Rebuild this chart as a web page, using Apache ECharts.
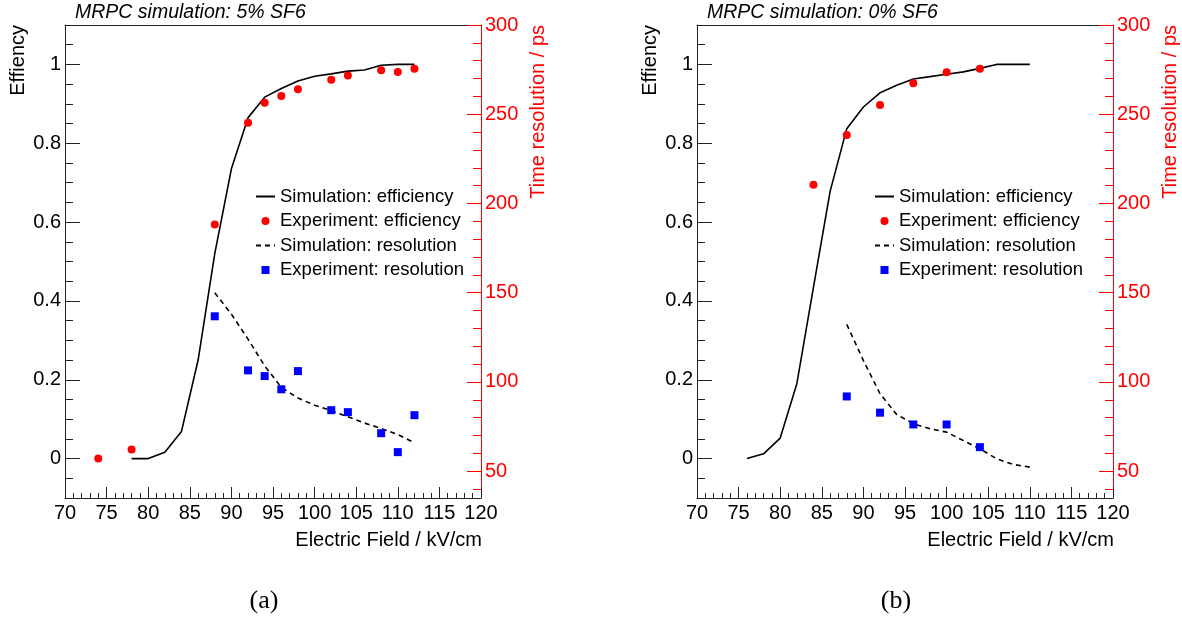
<!DOCTYPE html>
<html>
<head>
<meta charset="utf-8">
<script src="https://cdn.jsdelivr.net/npm/echarts@6/dist/echarts.min.js"></script>
<style>
html,body{margin:0;padding:0;background:#fff;}
#chart{width:1182px;height:617px;}
</style>
</head>
<body>
<div id="chart"></div>
<script>
// ---------- Panel (a): 5% SF6 ----------
const simEffX_a = [78, 80, 82, 84, 86, 88, 90, 92, 94, 96, 98, 100, 102, 104, 106, 108, 110, 112];
const simEff_a  = [0, 0, 0.016, 0.069, 0.25, 0.52, 0.735, 0.865, 0.917, 0.939, 0.958, 0.970, 0.976, 0.983, 0.986, 0.998, 1.0, 1.0];
const expEffX_a = [74, 78, 88, 92, 94, 96, 98, 102, 104, 108, 110, 112];
const expEff_a  = [0, 0.023, 0.594, 0.852, 0.903, 0.920, 0.937, 0.961, 0.972, 0.985, 0.981, 0.989];
const simResX_a = [88, 90, 92, 94, 96, 98, 100, 102, 104, 106, 108, 110, 112];
const simRes_a  = [150, 138, 124, 109, 97, 91, 87, 84, 80.5, 77, 74, 70.5, 66];
const expResX_a = [88, 92, 94, 96, 98, 102, 104, 108, 110, 112];
const expRes_a  = [136.8, 106.5, 103.3, 95.9, 106.1, 84.2, 83.1, 71.3, 60.7, 81.4];

// ---------- Panel (b): 0% SF6 ----------
const simEffX_b = [76, 78, 80, 82, 84, 86, 88, 90, 92, 94, 96, 98, 100, 102, 104, 106, 108, 110];
const simEff_b  = [0, 0.012, 0.052, 0.19, 0.435, 0.678, 0.837, 0.892, 0.928, 0.947, 0.963, 0.969, 0.975, 0.981, 0.99, 1.0, 1.0, 1.0];
const expEffX_b = [84, 88, 92, 96, 100, 104];
const expEff_b  = [0.695, 0.821, 0.897, 0.952, 0.980, 0.989];
const simResX_b = [88, 90, 92, 94, 96, 98, 100, 102, 104, 106, 108, 110];
const simRes_b  = [132.3, 112, 93.4, 81.8, 76.6, 73.8, 71.9, 67.2, 62.6, 57, 53.8, 52.3];
const expResX_b = [88, 92, 96, 100, 104];
const expRes_b  = [91.9, 82.8, 76.2, 76.2, 63.5];

// ---------- Tick labels ----------
const effMajor = [0, 0.2, 0.4, 0.6, 0.8, 1];
const effMinor = [-0.1, -0.05, 0, 0.05, 0.1, 0.15, 0.2, 0.25, 0.3, 0.35, 0.4, 0.45, 0.5, 0.55, 0.6, 0.65, 0.7, 0.75, 0.8, 0.85, 0.9, 0.95, 1, 1.05, 1.1];
const resMajor = [50, 100, 150, 200, 250, 300];
const resMinor = [40, 50, 60, 70, 80, 90, 100, 110, 120, 130, 140, 150, 160, 170, 180, 190, 200, 210, 220, 230, 240, 250, 260, 270, 280, 290, 300];

const titles = ['MRPC simulation: 5% SF6', 'MRPC simulation: 0% SF6'];
const panelTags = ['(a)', '(b)'];
const seriesNames = ['Simulation: efficiency', 'Experiment: efficiency', 'Simulation: resolution', 'Experiment: resolution'];

const FONT = 'Liberation Sans, Arial, sans-serif';
const AX = '#222';
const RED = '#ff0000';
const BLUE = '#0000ff';

function pairs(xs, ys) { return xs.map((x, i) => [x, ys[i]]); }

const panels = [
  {left: 65, sx: [simEffX_a, simEff_a], ex: [expEffX_a, expEff_a], sr: [simResX_a, simRes_a], er: [expResX_a, expRes_a], legendLeft: 255},
  {left: 697, sx: [simEffX_b, simEff_b], ex: [expEffX_b, expEff_b], sr: [simResX_b, simRes_b], er: [expResX_b, expRes_b], legendLeft: 874}
];

const grid = [], xAxis = [], yAxis = [], series = [], legend = [], title = [], graphic = [];

const hiddenSym = {color: 'rgba(0,0,0,0)', borderWidth: 0};
const legendData = [
  {name: seriesNames[0], itemStyle: hiddenSym},
  {name: seriesNames[1], icon: 'circle'},
  {name: seriesNames[2], itemStyle: hiddenSym},
  {name: seriesNames[3], icon: 'path://M0,0L10,0L10,10L0,10Z'}
];

panels.forEach((p, k) => {
  grid.push({left: p.left, top: 25, width: 416, height: 473, containLabel: false});
  // bottom x axis
  xAxis.push({
    type: 'value', gridIndex: k, position: 'bottom', min: 70, max: 120, interval: 5,
    axisLine: {show: true, onZero: false, lineStyle: {color: AX, width: 1}},
    axisTick: {show: true, inside: true, length: 11, lineStyle: {color: AX}},
    minorTick: {show: true, splitNumber: 5, length: 5, lineStyle: {color: AX}},
    axisLabel: {color: '#000', fontSize: 20, fontFamily: FONT, margin: 5},
    splitLine: {show: false}, minorSplitLine: {show: false}
  });
  // top frame line
  xAxis.push({
    type: 'value', gridIndex: k, position: 'top', min: 70, max: 120,
    axisLine: {show: true, onZero: false, lineStyle: {color: AX, width: 1}},
    axisTick: {show: false}, axisLabel: {show: false}, splitLine: {show: false}
  });
  // left efficiency axis (major + labels)
  yAxis.push({
    type: 'value', gridIndex: k, position: 'left', min: -0.1, max: 1.1,
    axisLine: {show: true, onZero: false, lineStyle: {color: AX, width: 1}},
    axisTick: {show: true, inside: true, length: 15, customValues: effMajor, lineStyle: {color: AX}},
    axisLabel: {show: true, customValues: effMajor, color: '#000', fontSize: 20, fontFamily: FONT, margin: 4},
    splitLine: {show: false}
  });
  // left efficiency axis (minor ticks)
  yAxis.push({
    type: 'value', gridIndex: k, position: 'left', min: -0.1, max: 1.1,
    axisLine: {show: false, onZero: false},
    axisTick: {show: true, inside: true, length: 8, customValues: effMinor, lineStyle: {color: AX}},
    axisLabel: {show: false}, splitLine: {show: false}
  });
  // right resolution axis (major + labels)
  yAxis.push({
    type: 'value', gridIndex: k, position: 'right', min: 35, max: 300,
    axisLine: {show: true, onZero: false, lineStyle: {color: RED, width: 1}},
    axisTick: {show: true, inside: true, length: 14, customValues: resMajor, lineStyle: {color: RED}},
    axisLabel: {show: true, customValues: resMajor, color: RED, fontSize: 20, fontFamily: FONT, margin: 4},
    splitLine: {show: false}
  });
  // right resolution axis (minor ticks)
  yAxis.push({
    type: 'value', gridIndex: k, position: 'right', min: 35, max: 300,
    axisLine: {show: false, onZero: false},
    axisTick: {show: true, inside: true, length: 8, customValues: resMinor, lineStyle: {color: RED}},
    axisLabel: {show: false}, splitLine: {show: false}
  });

  const xi = k * 2, yi = k * 4;
  series.push({
    name: seriesNames[0], type: 'line', xAxisIndex: xi, yAxisIndex: yi,
    data: pairs(p.sx[0], p.sx[1]), symbol: 'none', showSymbol: false,
    lineStyle: {color: '#000', width: 1.6}, itemStyle: {color: '#000'}, z: 3, animation: false
  });
  series.push({
    name: seriesNames[1], type: 'scatter', xAxisIndex: xi, yAxisIndex: yi,
    data: pairs(p.ex[0], p.ex[1]), symbol: 'circle', symbolSize: 8,
    itemStyle: {color: RED, opacity: 1}, z: 4, animation: false
  });
  series.push({
    name: seriesNames[2], type: 'line', xAxisIndex: xi, yAxisIndex: yi + 2,
    data: pairs(p.sr[0], p.sr[1]), symbol: 'none', showSymbol: false,
    lineStyle: {color: '#000', width: 1.6, type: [5, 4]}, itemStyle: {color: '#000'}, z: 3, animation: false
  });
  series.push({
    name: seriesNames[3], type: 'scatter', xAxisIndex: xi, yAxisIndex: yi + 2,
    data: pairs(p.er[0], p.er[1]), symbol: 'rect', symbolSize: 8,
    itemStyle: {color: BLUE, opacity: 1}, z: 4, animation: false
  });

  legend.push({
    data: legendData, orient: 'vertical', left: p.legendLeft, top: 187, padding: 0,
    itemWidth: 19, itemHeight: 8, itemGap: 5.5, selectedMode: false, symbolKeepAspect: true,
    textStyle: {color: '#000', fontSize: 18.5, fontFamily: FONT}
  });

  title.push({
    text: titles[k], left: p.left + 10, top: 3, padding: 0,
    textStyle: {fontSize: 19.5, fontStyle: 'italic', fontWeight: 'normal', color: '#000', fontFamily: FONT}
  });

  const right = p.left + 416;
  graphic.push({
    type: 'text', x: p.left - 47, y: 25, rotation: Math.PI / 2,
    style: {text: 'Effiency', font: '20px ' + FONT, fill: '#000', textAlign: 'right', textVerticalAlign: 'middle'}
  });
  graphic.push({
    type: 'text', x: right + 57, y: 25, rotation: Math.PI / 2,
    style: {text: 'Time resolution / ps', font: '20px ' + FONT, fill: RED, textAlign: 'right', textVerticalAlign: 'middle'}
  });
  graphic.push({
    type: 'text', x: right + 1, y: 540,
    style: {text: 'Electric Field / kV/cm', font: '20px ' + FONT, fill: '#000', textAlign: 'right', textVerticalAlign: 'middle'}
  });
  graphic.push({
    type: 'text', x: p.left + 199, y: 601,
    style: {text: panelTags[k], font: '26px Liberation Serif, Times New Roman, serif', fill: '#000', textAlign: 'center', textVerticalAlign: 'middle'}
  });
});

const chart = echarts.init(document.getElementById('chart'), null, {renderer: 'canvas'});
chart.setOption({
  backgroundColor: '#fff',
  animation: false,
  title, grid, xAxis, yAxis, series, legend, graphic
});
</script>
</body>
</html>
